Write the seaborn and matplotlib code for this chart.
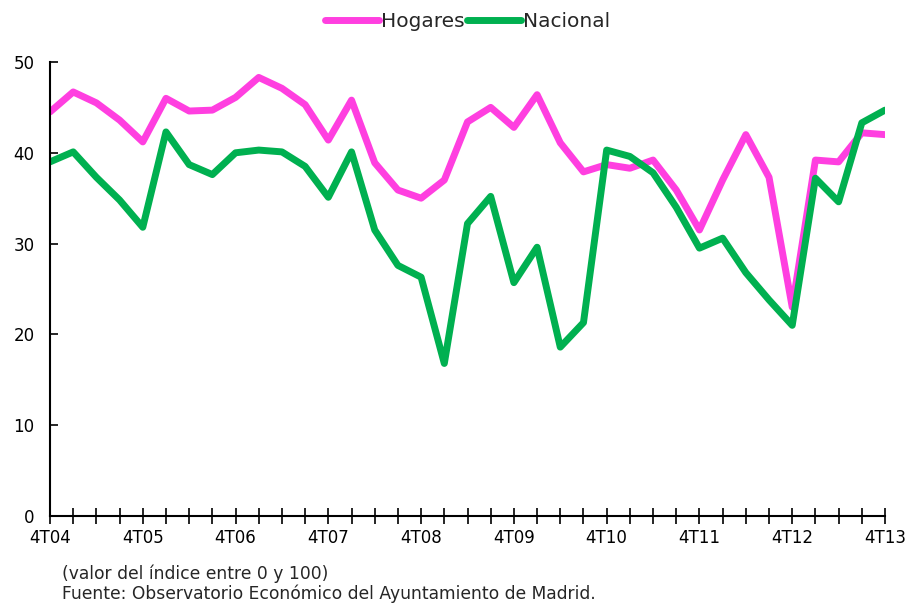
import pandas as pd
import numpy as np
import matplotlib
matplotlib.use("Agg")
import matplotlib.pyplot as plt
import seaborn as sns

years = ["04", "05", "06", "07", "08", "09", "10", "11", "12", "13"]
tick_labels = ["4T" + y for y in years]

hogares = [44.5, 46.7, 45.5, 43.6, 41.2, 46.0, 44.6, 44.7, 46.1, 48.3,
           47.1, 45.3, 41.4, 45.8, 38.9, 35.9, 35.0, 37.0, 43.4, 45.0,
           42.8, 46.4, 41.1, 37.9, 38.7, 38.3, 39.2, 35.9, 31.5, 37.0,
           42.0, 37.3, 23.0, 39.2, 39.0, 42.2, 42.0]
nacional = [39.0, 40.1, 37.3, 34.8, 31.8, 42.3, 38.7, 37.6, 40.0, 40.3,
            40.1, 38.5, 35.1, 40.1, 31.5, 27.6, 26.3, 16.8, 32.2, 35.2,
            25.7, 29.6, 18.6, 21.3, 40.3, 39.6, 37.8, 34.0, 29.5, 30.6,
            26.8, 23.8, 21.0, 37.2, 34.6, 43.3, 44.7]

quarters = list(range(len(hogares)))
df = pd.concat([
    pd.DataFrame({"t": quarters, "valor": hogares, "serie": "Hogares"}),
    pd.DataFrame({"t": quarters, "valor": nacional, "serie": "Nacional"}),
])

sns.set_style("white")
plt.rcParams["font.family"] = ["DejaVu Sans"]

fig = plt.figure(figsize=(9.08, 6.03), dpi=100)
ax = fig.add_axes([50 / 908, 1 - 516 / 603, 835 / 908, 454 / 603])

sns.lineplot(data=df, x="t", y="valor", hue="serie",
             palette={"Hogares": "#FF3FE0", "Nacional": "#00B050"},
             linewidth=5, ax=ax, legend=True)
for line in ax.get_lines():
    line.set_solid_capstyle("round")
    line.set_solid_joinstyle("round")

ax.set_xlim(0, 36)
ax.set_ylim(0, 50)
ax.set_yticks(range(0, 51, 10))
ax.set_xticks(range(0, 37, 4))
ax.set_xticklabels(tick_labels)
ax.set_xticks(range(0, 37), minor=True)
ax.set_xlabel("")
ax.set_ylabel("")

for s in ["top", "right"]:
    ax.spines[s].set_visible(False)
for s in ["left", "bottom"]:
    ax.spines[s].set_color("black")
    ax.spines[s].set_linewidth(1.5)

ax.tick_params(axis="y", which="major", direction="in", length=6, width=1.2,
               labelsize=12, colors="black", left=True, pad=11)
ax.tick_params(axis="x", which="both", direction="inout", length=11, width=1.2,
               labelsize=12, colors="black", bottom=True)
ax.tick_params(axis="x", which="major", pad=4)

handles, labels = ax.get_legend_handles_labels()
leg = ax.legend(handles, labels, loc="upper center", bbox_to_anchor=(0.5, 1.15),
                ncol=2, frameon=False, fontsize=14.5, handlelength=2.7,
                handletextpad=0.1, columnspacing=0.1)

fig.text(62 / 908, 1 - 574 / 603, "(valor del índice entre 0 y 100)",
         fontsize=12.3, va="center")
fig.text(62 / 908, 1 - 594 / 603,
         "Fuente: Observatorio Económico del Ayuntamiento de Madrid.",
         fontsize=12.3, va="center")

fig.savefig("out.png", dpi=100)
